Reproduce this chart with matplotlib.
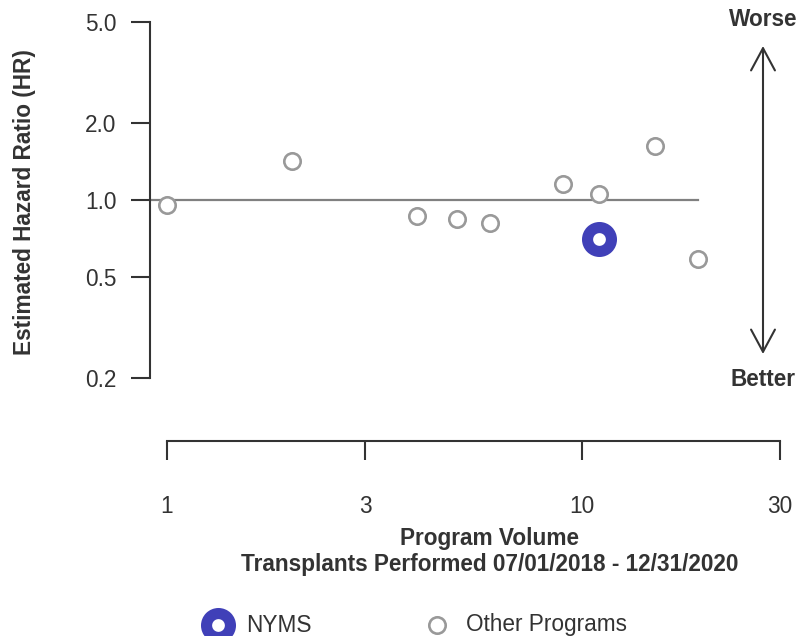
import matplotlib
matplotlib.use("Agg")
from matplotlib import pyplot as plt
from matplotlib.lines import Line2D
from matplotlib.patches import FancyArrowPatch

plt.rcParams['font.family'] = ['Liberation Sans', 'DejaVu Sans']

# data
other_volume = [1, 2, 4, 5, 6, 9, 11, 15, 19]
other_hr = [0.956, 1.42, 0.866, 0.843, 0.813, 1.155, 1.055, 1.626, 0.588]
nyms_volume = [11]
nyms_hr = [0.704]

x_ticks = [1, 3, 10, 30]
y_ticks = [0.2, 0.5, 1.0, 2.0, 5.0]
y_labels = ['0.2', '0.5', '1.0', '2.0', '5.0']

dark = '#333333'
gray = '#999999'
blue = '#4040B8'
fs = 16.3

fig = plt.figure(figsize=(8.07, 6.36), dpi=100)
ax = fig.add_axes([150 / 807, 1 - 378 / 636, 630 / 807, 356 / 636])
ax.set_xscale('log')
ax.set_yscale('log')
ax.set_xlim(0.91, 30)
ax.set_ylim(0.2, 5.0)

# reference line at HR = 1
ax.plot([0.91, max(other_volume + nyms_volume)], [1, 1], color='#808080', lw=1.6, zorder=1)

ax.plot(other_volume, other_hr, 'o', ms=11.8, mfc='white', mec=gray, mew=1.9,
        zorder=3, clip_on=False)
ax.plot(nyms_volume, nyms_hr, 'o', ms=17.2, mfc='white', mec=blue, mew=8, zorder=4,
        clip_on=False)

for s in ['top', 'right']:
    ax.spines[s].set_visible(False)
ax.spines['left'].set_bounds(0.2, 5.0)
ax.spines['bottom'].set_position(('outward', 45.4))
ax.spines['bottom'].set_bounds(1, 30)
for s in ['left', 'bottom']:
    ax.spines[s].set_color(dark)
    ax.spines[s].set_linewidth(1.5)

ax.set_xticks(x_ticks)
ax.set_xticklabels([str(v) for v in x_ticks])
ax.xaxis.set_minor_locator(matplotlib.ticker.NullLocator())
ax.set_yticks(y_ticks)
ax.set_yticklabels(y_labels)
ax.yaxis.set_minor_locator(matplotlib.ticker.NullLocator())
ax.tick_params(axis='x', direction='out', length=13.7, width=1.5, color=dark,
               labelsize=fs, labelcolor=dark, pad=25)
ax.tick_params(axis='y', direction='out', length=13.7, width=1.5, color=dark,
               labelsize=fs, labelcolor=dark, pad=10.5)

# axis titles
fig.text(25 / 807, 1 - 202 / 636, 'Estimated Hazard Ratio (HR)', rotation=90,
         ha='center', va='center', fontsize=fs, fontweight='bold', color=dark)
fig.text(490 / 807, 1 - 539 / 636, 'Program Volume', ha='center', va='center',
         fontsize=fs, fontweight='bold', color=dark)
fig.text(490 / 807, 1 - 565 / 636, 'Transplants Performed 07/01/2018 - 12/31/2020',
         ha='center', va='center', fontsize=fs, fontweight='bold', color=dark)

# worse / better arrow
fig.text(763 / 807, 1 - 20 / 636, 'Worse', ha='center', va='center',
         fontsize=fs, fontweight='bold', color=dark)
fig.text(763 / 807, 1 - 379 / 636, 'Better', ha='center', va='center',
         fontsize=fs, fontweight='bold', color=dark)
fig.add_artist(FancyArrowPatch(
    (763 / 807, 1 - 46 / 636), (763 / 807, 1 - 354 / 636),
    transform=fig.transFigure, arrowstyle='<->,head_length=16,head_width=8.6',
    color=dark, lw=1.5, mutation_scale=1, shrinkA=0, shrinkB=0))

# legend
fig.add_artist(Line2D([218 / 807], [1 - 625 / 636], transform=fig.transFigure,
                      marker='o', ls='none', ms=17.2, mfc='white', mec=blue, mew=8))
fig.text(246 / 807, 1 - 625 / 636, 'NYMS', ha='left', va='center',
         fontsize=fs, color=dark)
fig.add_artist(Line2D([437 / 807], [1 - 625 / 636], transform=fig.transFigure,
                      marker='o', ls='none', ms=11.8, mfc='white', mec=gray, mew=1.9))
fig.text(466 / 807, 1 - 625 / 636, 'Other Programs', ha='left', va='center',
         fontsize=fs, color=dark)

fig.savefig('out.png', dpi=100)
